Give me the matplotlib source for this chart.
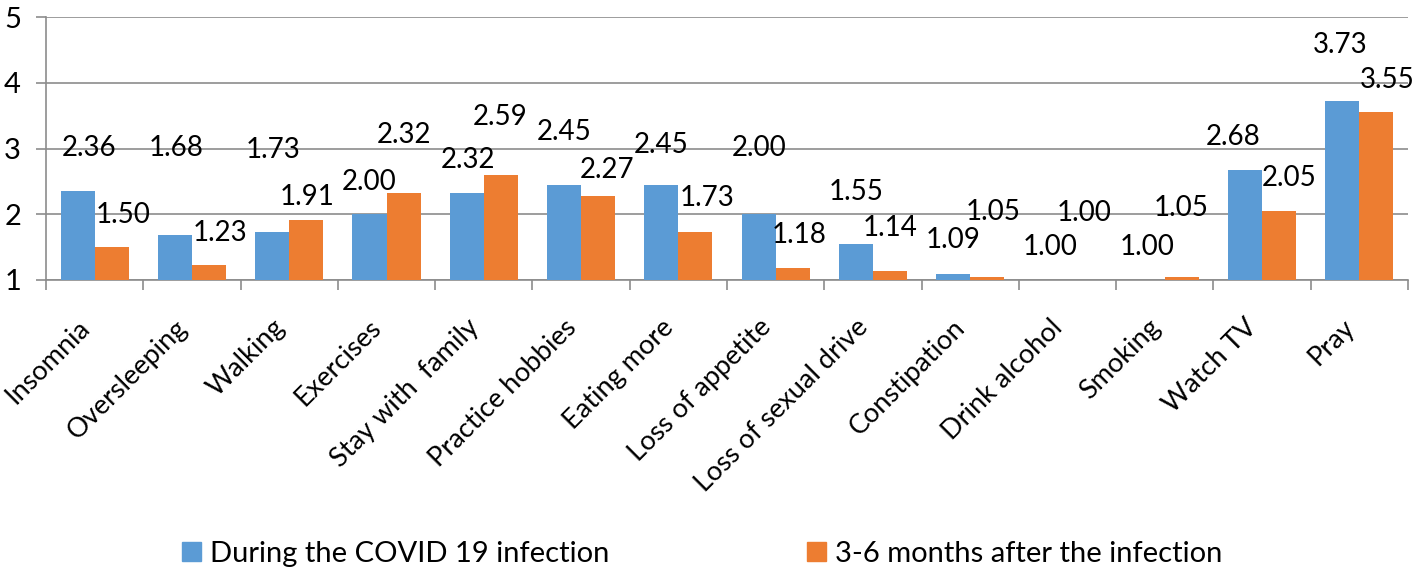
import numpy as np
import matplotlib.pyplot as plt
from matplotlib.patches import Patch

plt.rcParams['font.family'] = ['Lato', 'DejaVu Sans']

# Dữ liệu
categories = ["Insomnia", "Oversleeping", "Walking", "Exercises", "Stay with  family",
              "Practice hobbies", "Eating more", "Loss of appetite", "Loss of sexual drive",
              "Constipation", "Drink alcohol", "Smoking", "Watch TV", "Pray"]
during = [2.36, 1.68, 1.73, 2.00, 2.32, 2.45, 2.45, 2.00, 1.55, 1.09, 1.00, 1.00, 2.68, 3.73]
after = [1.50, 1.23, 1.91, 2.32, 2.59, 2.27, 1.73, 1.18, 1.14, 1.05, 1.00, 1.05, 2.05, 3.55]
series_names = ["During the COVID 19 infection", "3-6 months after the infection"]

# Vị trí nhãn giá trị (dịch x theo nhóm, y theo đơn vị dữ liệu) - như trong hình gốc
blue_dx = [-0.06, -0.165, -0.169, -0.174, -0.167, -0.171, -0.176, -0.169, -0.174,
           -0.178, -0.182, -0.186, -0.293, -0.194]
blue_ly = [3.01, 3.01, 2.98, 2.49, 2.83, 3.25, 3.05, 3.01, 2.34, 1.61, 1.50, 1.50, 3.17, 4.57]
orange_dx = [0.29, 0.286, 0.18, 0.176, 0.171, 0.27, 0.297, 0.241, 0.176, 0.233, 0.167,
             0.163, 0.282, 0.289]
orange_ly = [1.99, 1.71, 2.26, 3.21, 3.48, 2.67, 2.25, 1.68, 1.79, 2.03, 2.02, 2.10, 2.55, 4.04]

blue = '#5B9BD5'
orange = '#ED7D31'
grid = '#8c8c8c'

fig = plt.figure(figsize=(14.24, 5.7), dpi=100)
ax = fig.add_axes([46 / 1424, 1 - 280 / 570, (1408 - 46) / 1424, 263 / 570])

x = np.arange(len(categories))
w = 0.35
ax.bar(x - w / 2, during, w, color=blue, zorder=3)
ax.bar(x + w / 2, after, w, color=orange, zorder=3)

for i in range(len(categories)):
    ax.text(i + blue_dx[i], blue_ly[i], f"{during[i]:.2f}", ha='center', va='center',
            fontsize=20, zorder=4)
    ax.text(i + orange_dx[i], orange_ly[i], f"{after[i]:.2f}", ha='center', va='center',
            fontsize=20, zorder=4)

ax.set_xlim(-0.5, len(categories) - 0.5)
ax.set_ylim(1, 5)
ax.set_yticks([1, 2, 3, 4, 5])
ax.yaxis.grid(True, color=grid, linewidth=1.2, zorder=0)
ax.tick_params(axis='y', length=7, color=grid, width=1.2, labelsize=21, pad=11)

ax.set_xticks(x)
ax.set_xticklabels(categories, rotation=45, ha='right', va='top', fontsize=19.5)
ax.set_xticks(np.arange(-0.5, len(categories)), minor=True)
ax.tick_params(axis='x', which='major', length=0, pad=25)
ax.tick_params(axis='x', which='minor', length=7, color=grid, width=1.2)

for s in ['top', 'right']:
    ax.spines[s].set_visible(False)
for s in ['left', 'bottom']:
    ax.spines[s].set_color(grid)
    ax.spines[s].set_linewidth(1.2)

handles = [Patch(color=blue, label=series_names[0]), Patch(color=orange, label=series_names[1])]
fig.legend(handles=handles, loc='center left', bbox_to_anchor=(182 / 1424, 1 - 554 / 570),
           ncol=2, frameon=False, fontsize=21, handlelength=0.65, handleheight=0.65,
           handletextpad=0.3, columnspacing=6.8, borderpad=0, borderaxespad=0)

fig.savefig('out.png', dpi=100)
